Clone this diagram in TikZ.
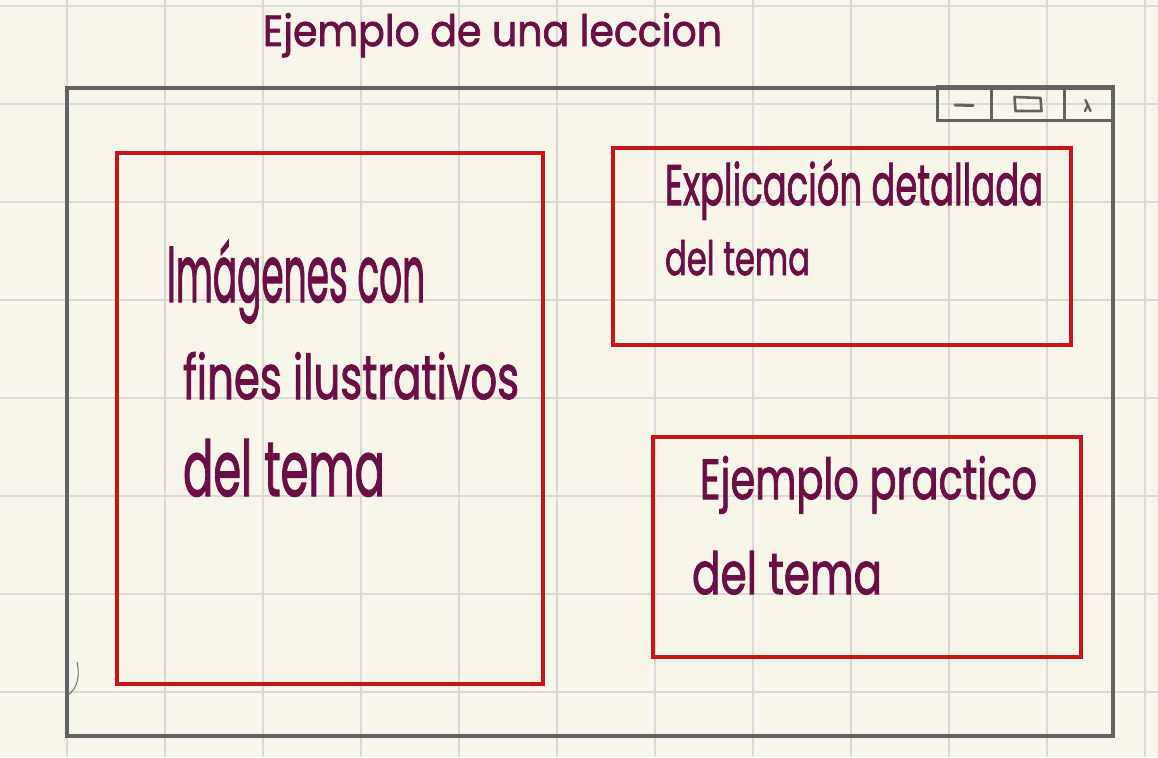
\documentclass[tikz,border=0pt]{standalone}
\usepackage{fontspec}
\setmainfont{Poppins}[BoldFont=Poppins, BoldFeatures={FakeBold=1.8}]
\usepackage{graphicx}
\definecolor{paper}{HTML}{F8F5EA}
\definecolor{gridc}{HTML}{D9D8D5}
\definecolor{frame}{HTML}{626260}
\definecolor{redbox}{HTML}{C8141A}
\definecolor{ink}{HTML}{6A0E45}
\tikzset{
  gridline/.style={draw=gridc, line width=2.6pt},
  winframe/.style={draw=frame, line width=3.6pt, line join=miter},
  btn/.style={draw=frame, line width=3pt, outer sep=0pt, inner sep=0pt, anchor=north west, minimum height=34pt},
  areabox/.style={draw=redbox, line width=3.8pt, outer sep=0pt, inner sep=0pt, anchor=north west},
  hand/.style={anchor=base west, inner sep=0pt, outer sep=0pt, text=ink, font=\bfseries},
}
\newcommand{\hw}[3]{\resizebox{#1pt}{#2pt}{#3}}
\begin{document}
\begin{tikzpicture}[x=1pt,y=-1pt]
\useasboundingbox (0,0) rectangle (1158,757);
\fill[paper] (0,0) rectangle (1158,757);
% grid
\foreach \gx in {67,165,263,361,459,557,655,753,851,949,1047,1145}
  \draw[gridline] (\gx,0) -- (\gx,757);
\foreach \gy in {6,104,202,300,398,496,594,692}
  \draw[gridline] (0,\gy) -- (1158,\gy);
% title
\node[hand] (title) at (263,46) {\hw{459}{33}{\bfseries Ejemplo de una leccion}};
% window
\draw[winframe] (67,88) rectangle (1113,736);
\node[btn, draw, minimum width=54pt] (bmin) at (937,87) {};
\node[btn, draw, minimum width=73pt] (bmax) at (991,87) {};
\node[btn, draw, minimum width=49pt] (bclose) at (1064,87) {};
\draw[frame, line width=3pt, line cap=round] ([shift={(-9pt,-1pt)}]bmin.center) -- ([shift={(9pt,-1.5pt)}]bmin.center);
\draw[frame, line width=2.6pt, line join=round] ([shift={(-13pt,7pt)}]bmax.center) -- ([shift={(13pt,6pt)}]bmax.center) -- ([shift={(14pt,-7pt)}]bmax.center) -- ([shift={(-12pt,-7pt)}]bmax.center) -- cycle;
\draw[frame, line width=2.4pt, line cap=round] ([shift={(-3pt,4pt)}]bclose.center) -- ([shift={(2pt,-7pt)}]bclose.center);
\draw[frame, line width=2.4pt, line cap=round] ([shift={(-0.5pt,-1pt)}]bclose.center) -- ([shift={(-3.5pt,-7pt)}]bclose.center);
% small hook
\draw[frame, line width=0.9pt] (77,662) .. controls (80,675) and (78,688) .. (68,695);
% red boxes
\node[areabox, draw, minimum width=426pt, minimum height=531pt] (imgbox) at (117,153) {};
\node[areabox, draw, minimum width=458pt, minimum height=197pt] (expbox) at (613,148) {};
\node[areabox, draw, minimum width=428pt, minimum height=220pt] (ejbox) at (653,437) {};
% texts
\node[hand] (t1a) at (167,302) {\hw{258}{62}{\bfseries Imágenes con}};
\node[hand] (t1b) at (183,399) {\hw{336}{47}{\bfseries fines ilustrativos}};
\node[hand] (t1c) at (183,496) {\hw{202}{57}{\bfseries del tema}};
\node[hand] (t2a) at (665,205) {\hw{378}{45}{\bfseries Explicación detallada}};
\node[hand] (t2b) at (665,275) {\hw{145}{35}{\bfseries del tema}};
\node[hand] (t3a) at (700,499) {\hw{337}{43}{\bfseries Ejemplo practico}};
\node[hand] (t3b) at (692,594) {\hw{190}{43}{\bfseries del tema}};
\end{tikzpicture}
\end{document}
